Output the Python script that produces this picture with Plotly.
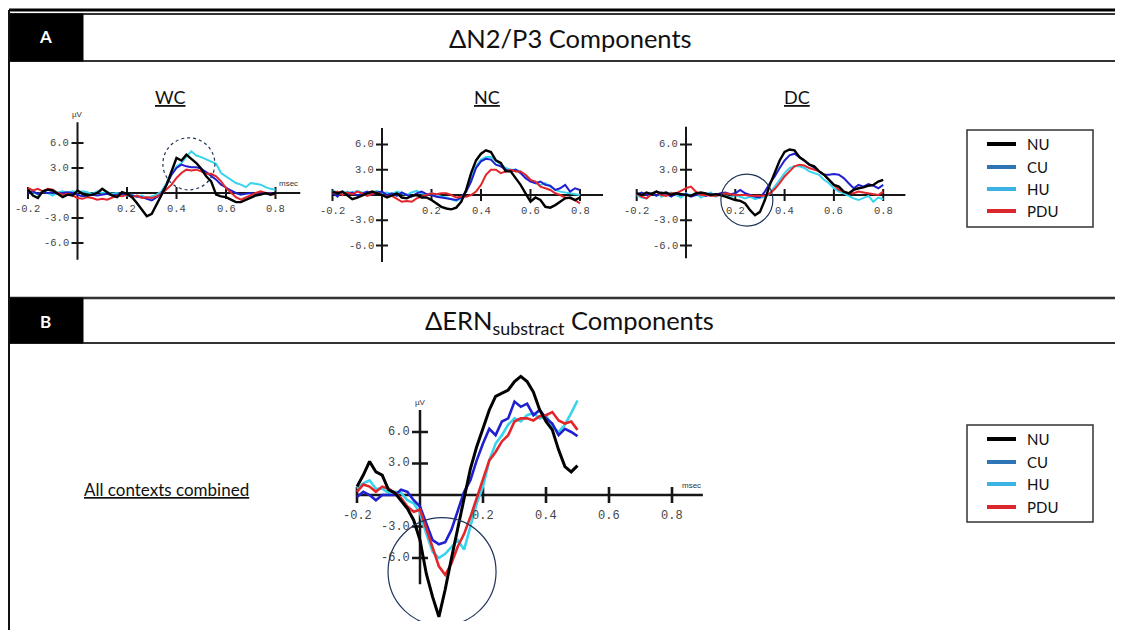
import plotly.graph_objects as go

# The page body adds an 8px margin, so the figure is drawn 8px in from the window corner.
WIN_W, WIN_H = 1123, 630
OFF = 8
W, H = WIN_W - OFF, WIN_H - OFF

# ---------------- data ----------------
SERIES = ["NU", "CU", "HU", "PDU"]

T_A = [-0.20, -0.18, -0.16, -0.14, -0.12, -0.10, -0.08, -0.06, -0.04, -0.02,
       0.00, 0.02, 0.04, 0.06, 0.08, 0.10, 0.12, 0.14, 0.16, 0.18,
       0.20, 0.22, 0.24, 0.26, 0.28, 0.30, 0.32, 0.34, 0.36, 0.38,
       0.40, 0.42, 0.44, 0.46, 0.48, 0.50, 0.52, 0.54, 0.56, 0.58,
       0.60, 0.62, 0.64, 0.66, 0.68, 0.70, 0.72, 0.74, 0.76, 0.78, 0.80]

T_B = [-0.20, -0.18, -0.16, -0.14, -0.12, -0.10, -0.08, -0.06, -0.04, -0.02,
       0.00, 0.02, 0.04, 0.06, 0.08, 0.10, 0.12, 0.14, 0.16, 0.18,
       0.20, 0.22, 0.24, 0.26, 0.28, 0.30, 0.32, 0.34, 0.36, 0.38,
       0.40, 0.42, 0.44, 0.46, 0.48, 0.50]

WC_NU = [0.4, -0.3, -0.6, 0.2, 0.4, 0.3, -0.1, -0.5, -0.2, -0.3, 0.3,
         -0.1, -0.3, -0.2, 0.0, 0.5, 0.1, -0.3, -0.5, 0.1, -0.1,
         -0.5, -1.2, -2.0, -2.8, -2.5, -1.4, -0.2, 1.0, 2.6, 4.2,
         3.9, 4.6, 4.1, 3.6, 2.9, 2.0, 1.4, -0.2, -0.4, -0.5,
         -0.8, -1.1, -1.1, -0.8, -0.5, -0.3, -0.2, 0.0, -0.2, 0.0]
WC_CU = [0.0, 0.2, -0.1, 0.1, 0.0, 0.1, -0.1, 0.0, 0.1, 0.0, -0.2,
         -0.4, -0.3, -0.2, -0.3, -0.2, -0.1, -0.3, -0.2, -0.1, -0.2,
         -0.3, -0.4, -0.5, -0.7, -0.9, -0.5, 0.0, 1.0, 2.2, 3.0,
         3.4, 3.2, 3.1, 3.1, 2.9, 2.5, 2.1, 1.6, 1.0, 0.6,
         0.3, 0.0, -0.2, -0.1, 0.0, -0.2, 0.0, -0.1, 0.0, -0.1]
WC_HU = [0.3, 0.1, -0.2, 0.2, 0.0, -0.3, 0.1, 0.2, 0.0, 0.2, 0.1,
         0.2, 0.1, -0.1, 0.2, 0.0, 0.1, -0.1, 0.0, -0.2, -0.3,
         -0.2, -0.5, -0.3, -0.6, -0.4, -0.2, 0.2, 1.2, 2.2, 3.2,
         3.6, 4.4, 5.0, 4.5, 4.3, 4.0, 3.8, 3.5, 2.4, 2.0,
         1.5, 1.2, 1.0, 0.7, 1.2, 1.1, 1.0, 0.7, 0.5, 0.4]
WC_PDU = [0.6, 0.3, 0.5, 0.2, 0.5, 0.4, 0.0, -0.2, -0.1, -0.3, -0.6,
          -0.7, -0.5, -0.6, -0.8, -0.7, -0.8, -0.5, -0.3, -0.4, -0.2,
          -0.5, -0.3, -0.6, -0.5, -0.6, -0.4, -0.1, 0.5, 1.0, 1.8,
          2.4, 2.8, 2.7, 2.8, 2.6, 2.3, 2.3, 2.0, 1.4, 0.6,
          0.0, -0.5, -0.8, -0.5, -0.2, 0.0, 0.2, 0.0, -0.1, -0.2]

NC_NU = [0.4, 0.2, 0.4, 0.0, -0.5, -0.3, 0.0, 0.2, 0.4, 0.2, 0.0,
         -0.3, 0.0, 0.2, -0.3, -0.4, -0.1, 0.0, -0.3, -0.3, -0.6,
         -1.0, -1.4, -1.6, -1.7, -1.5, -0.8, 0.6, 2.6, 4.1, 4.9,
         5.3, 5.1, 4.1, 3.8, 2.8, 2.8, 2.0, 1.2, 0.2, -0.8,
         -0.3, -0.6, -1.4, -1.5, -1.2, -0.8, -0.4, -0.3, -0.6, -0.3]
NC_CU = [0.3, -0.2, 0.4, 0.1, 0.3, -0.1, 0.2, 0.4, 0.1, 0.3, 0.4,
         0.0, 0.2, -0.1, 0.3, 0.0, -0.2, 0.2, 0.4, 0.1, 0.0,
         -0.2, -0.3, -0.4, -0.5, -0.6, -0.3, 0.4, 1.6, 3.2, 4.0,
         4.3, 4.2, 3.6, 3.4, 3.0, 2.8, 3.0, 2.6, 2.0, 1.6,
         1.4, 1.6, 1.2, 1.1, 0.6, 0.8, 1.2, 0.4, 0.8, 0.6]
NC_HU = [0.5, 0.3, 0.1, 0.4, 0.2, 0.5, 0.3, 0.1, 0.3, 0.5, 0.2,
         0.3, 0.1, 0.4, 0.2, 0.0, 0.3, 0.5, 0.2, 0.1, 0.2,
         0.0, -0.2, -0.3, -0.5, -0.7, -0.4, 0.4, 2.0, 3.4, 4.2,
         4.5, 4.5, 4.0, 3.6, 3.2, 3.0, 3.0, 2.8, 2.2, 1.8,
         1.4, 1.2, 1.4, 1.0, 0.6, 0.4, 0.3, 0.2, 0.1, 0.0]
NC_PDU = [0.2, 0.4, 0.0, 0.3, 0.1, 0.4, 0.2, -0.1, 0.1, 0.3, 0.0,
          -0.2, -0.1, -0.4, -0.8, -0.7, -0.8, -0.4, -0.2, 0.0, 0.2,
          0.1, 0.2, 0.2, 0.0, -0.3, -0.2, -0.2, 0.0, 0.4, 1.2,
          2.4, 3.0, 3.0, 2.6, 2.8, 3.0, 2.8, 2.8, 2.4, 1.8,
          1.6, 1.0, 0.8, 0.6, 0.2, 0.0, -0.3, -0.4, -0.6, -1.0]

DC_NU = [0.2, 0.0, 0.3, 0.1, 0.4, 0.2, 0.3, 0.0, 0.2, 0.1, 0.0,
         -0.1, 0.2, 0.3, 0.2, 0.0, 0.1, 0.0, -0.2, -0.4, -0.6,
         -0.7, -1.0, -1.8, -2.4, -2.0, -0.6, 1.2, 2.6, 4.1, 5.1,
         5.4, 5.3, 4.5, 4.1, 3.6, 3.4, 2.8, 2.4, 1.8, 1.2,
         1.0, 0.4, 0.2, 0.6, 0.8, 0.9, 1.1, 1.2, 1.6, 1.8]
DC_CU = [0.1, 0.3, 0.0, 0.2, -0.1, 0.3, 0.1, -0.2, 0.2, 0.0, 0.1,
         -0.2, 0.0, 0.2, -0.1, 0.1, 0.0, 0.2, 0.3, 0.1, 0.2,
         0.6, 0.2, 0.0, -0.2, -0.3, 0.4, 1.4, 2.2, 3.2, 4.1,
         4.7, 4.9, 4.5, 4.1, 3.6, 3.2, 2.8, 2.4, 2.4, 2.5,
         2.4, 2.0, 1.4, 0.8, 1.2, 1.0, 1.3, 1.1, 0.8, 1.2]
DC_HU = [0.0, -0.3, -0.4, 0.2, 0.4, -0.2, 0.1, 0.3, 0.0, -0.3, 0.2,
         -0.1, 0.2, -0.3, 0.0, 0.3, -0.2, 0.1, -0.1, -0.3, 0.0,
         -0.2, -0.4, -0.2, -0.5, -0.3, -0.3, 0.2, 1.0, 1.8, 2.6,
         3.2, 3.4, 3.4, 3.2, 2.8, 2.6, 2.4, 1.8, 1.4, 0.8,
         0.4, 0.2, -0.1, -0.4, -0.6, -0.3, -0.1, -0.8, -0.3, -0.5]
DC_PDU = [0.2, -0.2, -0.4, 0.1, 0.4, 0.0, -0.1, 0.2, 0.2, 0.5, 0.8,
          1.0, 0.4, 0.0, 0.0, -0.1, -0.1, 0.0, 0.2, 0.1, 0.0,
          0.0, 0.0, -0.1, -0.1, -0.1, -0.1, 0.2, 0.7, 1.4, 2.2,
          2.8, 3.4, 3.6, 3.5, 3.2, 3.0, 2.8, 2.4, 1.8, 1.2,
          0.6, 0.4, 0.2, 0.2, 0.4, 0.3, 0.2, 0.1, 0.0, 0.4]

ERN_NU = [0.8, 1.9, 3.2, 2.2, 1.9, 0.5, 0.2, -0.5, -1.3, -2.4,
          -4.3, -7.5, -9.7, -11.6, -9.0, -6.0, -3.2, -0.2, 2.5, 4.6,
          6.3, 8.1, 9.4, 9.7, 10.0, 10.8, 11.3, 10.8, 9.8, 8.1,
          7.0, 6.2, 4.3, 2.7, 2.2, 2.8]
ERN_CU = [-0.2, 0.3, 0.0, -0.5, 0.0, 0.0, 0.0, 0.5, 0.3, -0.5,
          -1.1, -2.7, -4.3, -4.7, -4.5, -3.3, -1.4, 0.3, 1.4, 3.3,
          4.9, 6.3, 5.7, 7.0, 7.3, 8.9, 8.4, 8.7, 7.6, 8.1,
          7.3, 6.8, 5.7, 6.3, 6.0, 5.6]
ERN_HU = [0.6, 1.1, 1.4, 0.6, 0.6, 0.2, 0.3, 0.2, -0.5, -0.8,
          -1.7, -3.7, -5.4, -6.0, -5.6, -4.9, -4.3, -5.2, -3.0, -0.8,
          0.8, 3.3, 4.9, 5.7, 6.7, 7.3, 7.0, 7.6, 7.8, 7.3,
          7.6, 6.5, 6.0, 6.7, 7.8, 9.0]
ERN_PDU = [0.3, 1.0, 0.8, 0.3, 0.8, 0.6, 0.2, -0.3, -1.1, -1.6,
           -1.4, -3.2, -4.9, -6.8, -7.6, -6.5, -4.9, -3.7, -2.1, -0.3,
           1.4, 3.3, 4.1, 5.1, 5.7, 7.0, 7.3, 7.3, 7.1, 7.5,
           7.6, 7.9, 7.1, 6.8, 7.0, 6.2]

X_TICKS = [-0.2, 0.2, 0.4, 0.6, 0.8]
X_TICK_LABELS = ["-0.2", "0.2", "0.4", "0.6", "0.8"]
Y_TICKS = [6.0, 3.0, -3.0, -6.0]
Y_TICK_LABELS = ["6.0", "3.0", "-3.0", "-6.0"]

# ---------------- styles ----------------
LINE_COLORS = {"NU": "#000000", "CU": "#2020d0", "HU": "#38d4ee", "PDU": "#e3262b"}
LEGEND_COLORS = {"NU": "#000000", "CU": "#2e75b6", "HU": "#3ab3e4", "PDU": "#d9272d"}
DRAW_ORDER = ["HU", "CU", "PDU", "NU"]
TEXT_FONT = "Lato, Open Sans, sans-serif"
MONO_FONT = "Liberation Mono, DejaVu Sans Mono, monospace"
TICK_COLOR = "#444444"

panels = [
    dict(key="WC", t=T_A, data={"NU": WC_NU, "CU": WC_CU, "HU": WC_HU, "PDU": WC_PDU},
         ox=77.5, oy=193, sx=247.5, sy=8.333, xr=(-0.26, 0.95), yr=(-8.6, 9.2),
         xline=(-0.2, 0.9), yline=(-8.0, 8.5), tick=6, alw=2, tlw=2, font=10.5,
         xlab_dy=-16, ylab_dx=-6, units=True, circle=(0.45, 3.5, 26, "dot")),
    dict(key="NC", t=T_A, data={"NU": NC_NU, "CU": NC_CU, "HU": NC_HU, "PDU": NC_PDU},
         ox=382, oy=195, sx=247.5, sy=8.43, xr=(-0.26, 0.95), yr=(-8.6, 9.2),
         xline=(-0.2, 0.893), yline=(-7.95, 7.95), tick=6, alw=2, tlw=2, font=10.5,
         xlab_dy=-16, ylab_dx=-6, units=False, circle=None),
    dict(key="DC", t=T_A, data={"NU": DC_NU, "CU": DC_CU, "HU": DC_HU, "PDU": DC_PDU},
         ox=686, oy=195, sx=246.5, sy=8.43, xr=(-0.26, 0.95), yr=(-8.6, 9.2),
         xline=(-0.2, 0.89), yline=(-7.5, 8.1), tick=6, alw=2, tlw=2, font=10.5,
         xlab_dy=-16, ylab_dx=-6, units=False, circle=(0.247, -0.6, 26, "solid")),
    dict(key="ERN", t=T_B, data={"NU": ERN_NU, "CU": ERN_CU, "HU": ERN_HU, "PDU": ERN_PDU},
         ox=420, oy=495, sx=315, sy=10.5, xr=(-0.24, 0.95), yr=(-12.0, 12.4),
         xline=(-0.2, 0.898), yline=(-8.5, 8.1), tick=8, alw=2.5, tlw=2.6, font=12,
         xlab_dy=-21, ylab_dx=-8, units=True, circle=(0.07, -7.3, 54, "solid")),
]

fig = go.Figure()
shapes = []
annotations = []


def px(x):
    return (x - OFF) / W


def py(y):
    return 1 - (y - OFF) / H


layout_axes = {}
for i, p in enumerate(panels):
    n = "" if i == 0 else str(i + 1)
    xa, ya = "x" + n, "y" + n
    left = p["ox"] + p["xr"][0] * p["sx"]
    right = p["ox"] + p["xr"][1] * p["sx"]
    top = p["oy"] - p["yr"][1] * p["sy"]
    bottom = p["oy"] - p["yr"][0] * p["sy"]
    layout_axes["xaxis" + n] = dict(domain=[px(left), px(right)], range=list(p["xr"]),
                                    visible=False, anchor=ya, fixedrange=True)
    layout_axes["yaxis" + n] = dict(domain=[py(bottom), py(top)], range=list(p["yr"]),
                                    visible=False, anchor=xa, fixedrange=True)

    # axes drawn through zero
    ac = "#161616"
    shapes.append(dict(type="line", xref=xa, yref=ya, x0=p["xline"][0], x1=p["xline"][1], y0=0, y1=0,
                       line=dict(color=ac, width=p["alw"]), layer="below"))
    shapes.append(dict(type="line", xref=xa, yref=ya, x0=0, x1=0, y0=p["yline"][0], y1=p["yline"][1],
                       line=dict(color=ac, width=p["alw"]), layer="below"))
    for tv, tl in zip(X_TICKS, X_TICK_LABELS):
        shapes.append(dict(type="line", xref=xa, yref=ya, x0=tv, x1=tv, ysizemode="pixel", yanchor=0,
                           y0=-p["tick"], y1=p["tick"], line=dict(color=ac, width=p["tlw"]), layer="below"))
        annotations.append(dict(x=tv, y=0, xref=xa, yref=ya, text=tl, showarrow=False, yshift=p["xlab_dy"],
                                xanchor="center", yanchor="middle",
                                font=dict(family=MONO_FONT, size=p["font"], color=TICK_COLOR)))
    for tv, tl in zip(Y_TICKS, Y_TICK_LABELS):
        shapes.append(dict(type="line", xref=xa, yref=ya, y0=tv, y1=tv, xsizemode="pixel", xanchor=0,
                           x0=-p["tick"], x1=p["tick"], line=dict(color=ac, width=p["tlw"]), layer="below"))
        annotations.append(dict(x=0, y=tv, xref=xa, yref=ya, text=tl, showarrow=False, xanchor="right",
                                yanchor="middle", xshift=p["ylab_dx"],
                                font=dict(family=MONO_FONT, size=p["font"], color=TICK_COLOR)))
    if p["units"]:
        annotations.append(dict(x=0, y=p["yline"][1], xref=xa, yref=ya, text="µV", showarrow=False,
                                xanchor="center", yanchor="bottom", yshift=1,
                                font=dict(family="Liberation Sans, Arial", size=8, color="#333333")))
        annotations.append(dict(x=p["xline"][1], y=0, xref=xa, yref=ya, text="msec", showarrow=False,
                                xanchor="right", yanchor="bottom", yshift=3,
                                font=dict(family="Liberation Sans, Arial", size=8, color="#333333")))
    if p["circle"]:
        cx, cy, r, dash = p["circle"]
        shapes.append(dict(type="circle", xref=xa, yref=ya, xsizemode="pixel", ysizemode="pixel",
                           xanchor=cx, yanchor=cy, x0=-r, x1=r, y0=-r, y1=r,
                           line=dict(color="#1f3559", width=1.2, dash=dash)))

    lw = 2.6 if p["key"] == "ERN" else 2.0
    for s in DRAW_ORDER:
        fig.add_trace(go.Scatter(x=p["t"], y=p["data"][s], mode="lines", name=s, xaxis=xa, yaxis=ya,
                                 line=dict(color=LINE_COLORS[s], width=lw + (0.4 if s == "NU" else 0)),
                                 showlegend=False, hoverinfo="skip"))


# ---------------- frame ----------------
def hline(y, x0, x1, w, c="#222222"):
    shapes.append(dict(type="line", xref="paper", yref="paper", x0=px(x0), x1=px(x1), y0=py(y), y1=py(y),
                       line=dict(color=c, width=w)))


def rect(x0, y0, x1, y1, fill=None, w=2, c="#333333"):
    shapes.append(dict(type="rect", xref="paper", yref="paper", x0=px(x0), x1=px(x1), y0=py(y1), y1=py(y0),
                       fillcolor=fill if fill else "rgba(0,0,0,0)", line=dict(color=c, width=w)))


def label(x, y, text, size, color="#111111", anchor="center"):
    annotations.append(dict(x=px(x), y=py(y), xref="paper", yref="paper", text=text, showarrow=False,
                            xanchor=anchor, yanchor="middle", font=dict(family=TEXT_FONT, size=size, color=color)))


hline(10, 9, 1124, 3, "#000000")
rect(9, 14, 1126, 61)
rect(9, 14, 83, 61, fill="#000000", w=1, c="#000000")
hline(298, 9, 1124, 2.5)
rect(9, 298, 1126, 343)
rect(9, 298, 83, 343, fill="#000000", w=1, c="#000000")
shapes.append(dict(type="line", xref="paper", yref="paper", x0=px(9), x1=px(9), y0=py(10), y1=py(640),
                   line=dict(color="#111111", width=2)))

label(45, 37, "<b>A</b>", 17, "white")
label(45, 321, "<b>B</b>", 17, "white")
label(570, 38, "ΔN2/P3 Components", 25.5)
label(569, 322, "ΔERN<sub>substract</sub> Components", 25.5)
label(170, 97, "<u>WC</u>", 18)
label(487, 97, "<u>NC</u>", 18)
label(797, 97, "<u>DC</u>", 18)
label(166, 489, "<u>All contexts combined</u>", 17)

# ---------------- legends ----------------
LEGEND_BOXES = [(130, 227, [144, 167, 189, 211]), (425, 522, [439, 462, 484, 507])]
for top, bot, rows in LEGEND_BOXES:
    rect(967, top, 1093, bot, w=1.5, c="#333333")
    for s, yy in zip(SERIES, rows):
        shapes.append(dict(type="line", xref="paper", yref="paper", x0=px(987), x1=px(1016), y0=py(yy), y1=py(yy),
                           line=dict(color=LEGEND_COLORS[s], width=4)))
        label(1025, yy, s, 15, anchor="left")

fig.update_layout(width=W, height=H, margin=dict(l=0, r=0, t=0, b=0), paper_bgcolor="white",
                  plot_bgcolor="rgba(0,0,0,0)", showlegend=False, shapes=shapes, annotations=annotations,
                  **layout_axes)
fig.write_html("out.html")
